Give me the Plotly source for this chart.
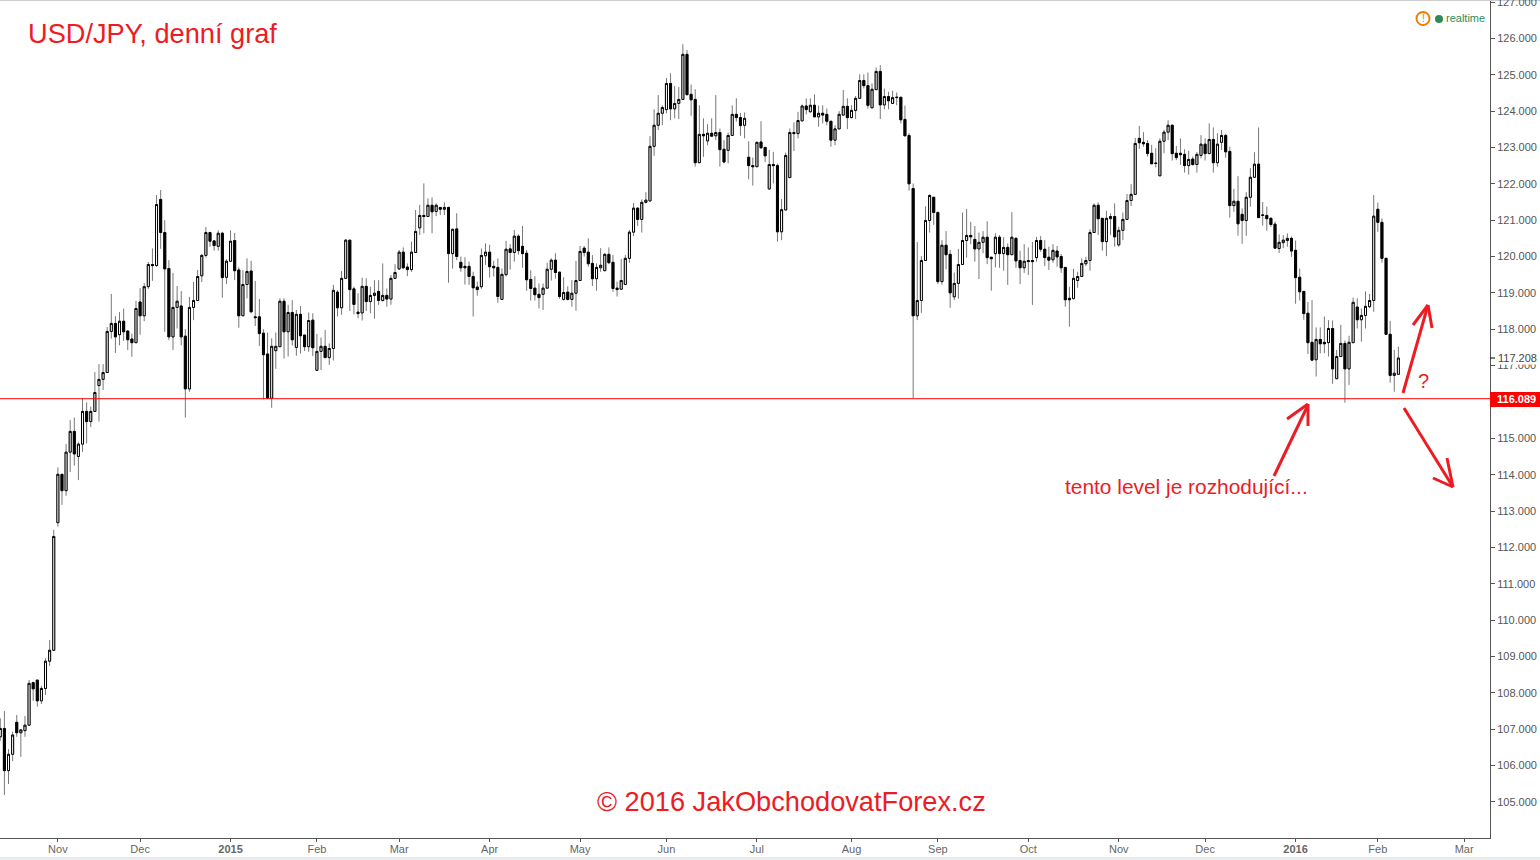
import plotly.graph_objects as go

opens = [
106.79,107.02,105.86,106.31,107.19,106.90,106.96,107.11,108.28,108.35,
107.78,108.12,108.87,109.17,112.68,114.01,113.56,114.62,115.19,114.50,
114.84,115.74,115.46,115.74,116.45,116.62,116.81,117.94,118.16,117.85,
118.22,117.95,117.73,117.63,118.75,118.37,119.17,119.78,119.75,121.57,
120.66,119.67,117.79,118.60,118.64,117.81,116.36,118.60,118.79,119.47,
120.03,120.66,120.43,120.28,120.64,119.43,119.87,120.44,119.63,118.37,
119.23,119.60,118.34,118.34,117.89,117.32,116.10,117.41,117.52,118.77,
117.93,118.46,117.50,118.41,117.84,117.52,118.25,116.87,117.39,117.53,
117.22,117.47,119.02,118.59,119.40,120.45,119.11,118.47,118.45,119.18,
118.76,118.93,119.04,118.79,118.93,118.83,119.40,119.66,120.12,119.71,
119.64,120.11,120.79,121.13,121.10,121.41,121.24,121.35,121.30,121.35,
120.08,120.76,119.84,119.73,119.73,119.45,119.16,119.17,120.02,120.12,
119.73,119.70,118.82,119.50,120.21,120.11,120.56,120.28,120.09,119.37,
119.13,118.96,118.96,119.13,119.65,119.90,119.57,118.82,119.02,118.82,
118.99,119.34,120.23,120.12,119.81,119.39,119.69,119.61,120.06,119.84,
119.13,119.10,119.23,119.95,120.67,121.33,121.02,121.49,121.53,123.03,
123.61,123.94,124.04,124.76,124.06,124.21,124.32,125.56,124.46,124.32,
122.58,123.36,123.18,123.39,123.32,123.41,122.95,122.92,123.33,123.91,
123.82,123.61,122.73,122.50,122.47,123.15,123.00,121.86,122.53,122.50,
120.68,121.28,122.17,123.41,123.38,123.73,124.14,123.98,124.16,123.84,
123.94,123.91,123.72,123.20,123.51,123.89,124.13,123.82,124.02,124.35,
124.84,124.70,124.09,124.59,125.09,124.17,124.40,124.21,124.37,124.38,
123.77,123.33,121.87,118.37,118.79,119.89,120.99,121.63,121.21,119.31,
120.31,120.06,118.89,119.26,119.78,120.44,120.58,120.47,120.21,120.39,
120.53,119.98,120.08,120.53,120.08,120.25,120.05,120.50,119.89,119.69,
119.89,119.89,119.97,120.44,120.20,119.98,119.91,120.15,120.00,119.70,
118.85,118.84,119.34,119.45,119.80,119.89,120.66,121.41,121.05,120.41,
121.04,121.10,120.32,120.72,121.02,121.54,121.71,123.25,123.14,123.11,
122.84,122.57,122.22,123.17,123.42,123.61,122.84,122.84,122.81,122.50,
122.68,122.53,122.78,123.09,122.83,123.22,122.58,123.14,123.33,122.89,
121.40,121.52,121.16,120.99,121.63,122.18,122.54,121.13,121.13,121.05,
120.89,120.22,120.38,120.44,120.50,120.17,119.43,119.04,118.44,117.64,
117.16,117.72,117.64,117.63,118.02,116.64,117.25,117.61,116.91,117.63,
118.61,118.26,118.38,118.62,118.79,121.30,120.94,119.95,117.86,116.73,
116.76]

closes = [
107.02,105.86,106.31,106.84,106.90,106.98,107.11,108.26,108.11,107.78,
108.12,108.87,109.17,112.30,114.01,113.56,114.62,115.19,114.57,114.84,
115.74,115.46,115.74,116.26,116.62,116.81,117.94,118.16,117.79,118.22,
117.93,117.71,117.63,118.57,118.37,119.17,119.78,119.75,121.43,120.66,
119.66,117.79,118.60,118.77,117.79,116.36,118.60,118.79,119.45,120.03,
120.66,120.42,120.30,120.64,119.42,119.87,120.42,119.61,118.37,119.23,
119.59,118.48,118.32,117.88,117.30,116.10,117.53,117.53,118.77,117.93,
118.46,117.71,118.41,117.82,117.52,118.24,117.49,117.39,117.53,117.22,
117.47,119.07,118.59,119.40,120.45,119.09,118.68,118.43,119.18,118.76,
118.93,118.99,118.79,118.93,118.83,119.40,119.56,120.12,119.69,119.64,
120.12,120.69,121.13,121.10,121.41,121.23,121.41,121.30,121.35,120.08,
120.75,120.00,119.69,119.69,119.45,119.14,119.09,120.03,120.12,119.72,
119.69,118.90,119.51,120.20,120.11,120.56,120.16,120.08,119.36,119.12,
118.95,118.87,119.13,119.65,119.90,119.56,118.90,119.01,118.82,118.99,
119.34,120.14,120.11,119.80,119.39,119.70,119.76,120.06,119.83,119.12,
119.09,119.34,119.95,120.67,121.33,121.02,121.49,121.55,123.03,123.61,
123.94,124.10,124.76,124.06,124.21,124.32,125.56,124.45,124.31,122.58,
123.36,123.32,123.39,123.31,123.41,122.94,122.60,123.33,123.91,123.82,
123.60,123.80,122.50,122.47,123.14,122.99,122.77,122.53,122.50,120.68,
121.29,122.78,123.41,123.38,123.74,124.14,124.04,124.16,123.84,123.94,
123.89,123.72,123.20,123.51,123.91,124.13,123.82,124.02,124.35,124.84,
124.70,124.16,124.60,125.09,124.17,124.40,124.28,124.37,124.38,123.76,
123.32,122.00,118.37,118.79,119.89,120.99,121.68,121.21,119.31,120.31,
120.05,119.00,119.26,119.78,120.44,120.58,120.54,120.21,120.39,120.53,
119.97,119.94,120.53,120.08,120.25,120.05,120.53,119.88,119.69,119.87,
119.86,119.86,120.44,120.20,119.97,119.90,120.17,119.99,119.69,118.81,
118.81,119.40,119.45,119.81,119.89,120.66,121.41,121.04,120.41,121.05,
121.10,120.54,120.72,121.02,121.54,121.71,123.11,123.13,123.10,122.83,
122.55,122.56,123.17,123.42,123.61,122.83,122.72,122.80,122.50,122.67,
122.53,122.81,123.09,122.83,123.22,122.58,123.09,123.33,122.88,121.40,
121.52,120.90,120.99,121.63,122.18,122.54,121.07,121.14,121.04,120.88,
120.23,120.39,120.45,120.50,120.15,119.42,119.03,118.43,117.63,117.15,
117.72,117.60,117.60,118.02,116.91,117.25,117.61,116.91,117.64,118.74,
118.26,118.38,118.63,118.79,121.11,120.94,119.95,117.86,116.73,116.79,
117.208]

highs = [
107.30,107.50,106.45,106.93,107.39,107.00,107.36,108.35,108.31,108.35,
108.19,108.95,109.45,112.48,114.20,114.01,114.84,115.50,115.57,114.89,
116.10,115.99,115.87,116.82,117.04,117.04,118.06,118.97,118.36,118.47,
118.57,117.98,117.88,118.78,119.13,119.27,119.85,120.22,121.69,121.83,
121.00,119.90,119.55,119.19,119.05,118.00,118.89,119.30,119.63,120.07,
120.81,120.68,120.45,120.72,120.68,119.93,120.72,120.65,119.70,119.62,
119.95,119.88,119.33,118.83,118.00,117.91,117.75,117.91,118.85,118.85,
118.67,118.80,118.53,118.64,117.84,118.46,118.44,117.87,117.77,117.98,
117.61,119.22,119.08,119.60,120.48,120.45,119.17,118.99,119.42,119.40,
119.17,119.35,119.35,119.81,119.12,119.49,119.79,120.18,120.25,119.81,
120.41,121.28,121.42,122.01,121.60,121.63,121.46,121.35,121.49,121.37,
120.75,121.19,120.00,119.98,119.86,119.58,119.31,120.22,120.36,120.32,
119.88,119.95,119.67,120.43,120.34,120.73,120.61,120.84,120.18,119.62,
119.46,119.26,119.26,119.83,119.95,120.09,119.57,119.43,119.18,119.35,
119.88,120.29,120.29,120.50,120.04,119.81,120.23,120.09,120.25,120.04,
119.31,119.93,120.04,120.73,121.47,121.35,121.57,121.77,123.31,124.05,
124.44,124.16,124.91,125.04,124.69,124.66,125.84,125.68,124.73,124.60,
124.16,123.80,123.64,123.80,124.44,123.52,123.20,123.41,124.16,124.35,
123.95,123.96,123.17,122.72,123.16,123.72,123.02,122.93,122.88,122.56,
121.58,122.86,123.52,123.69,123.98,124.18,124.35,124.35,124.46,124.15,
124.16,124.07,123.72,123.61,124.00,124.58,124.35,124.16,124.41,125.01,
125.01,125.06,124.76,125.20,125.26,124.62,124.53,124.56,124.51,124.38,
124.15,123.39,122.01,120.40,120.01,121.38,121.71,121.63,121.24,120.45,
120.70,120.18,119.56,120.21,121.21,121.31,120.95,120.84,120.66,120.70,
120.97,119.98,120.64,120.59,120.53,120.36,121.22,120.53,120.16,120.34,
120.25,120.40,120.54,120.56,120.45,120.27,120.34,120.29,120.07,119.70,
119.17,119.66,119.58,119.95,119.99,120.75,121.46,121.49,121.05,121.26,
121.19,121.46,120.82,121.21,121.72,121.99,123.26,123.59,123.42,123.20,
123.07,122.98,123.25,123.48,123.75,123.63,123.04,123.25,122.95,122.91,
122.75,122.87,123.34,123.25,123.66,123.55,123.39,123.48,123.37,123.02,
121.86,122.21,121.32,121.77,122.43,122.87,123.55,121.50,121.37,121.08,
120.96,120.61,120.59,120.64,120.55,120.44,119.67,119.04,118.75,118.80,
118.05,118.05,118.35,118.25,118.24,117.43,118.12,117.69,117.82,118.87,
118.85,118.57,119.04,118.97,121.69,121.48,121.05,119.95,118.23,117.43,
117.52]

lows = [
106.68,105.19,105.49,106.12,106.79,106.24,106.79,107.11,107.78,107.62,
107.69,107.94,108.74,109.17,112.57,113.17,113.42,114.07,114.25,113.85,
114.63,114.86,115.31,115.74,115.46,116.33,116.81,117.74,117.35,117.56,
117.68,117.43,117.24,117.63,117.85,118.22,119.11,119.33,119.72,120.21,
117.93,117.70,117.43,118.02,117.56,115.57,116.28,118.25,118.79,119.30,
119.97,120.27,120.16,120.16,118.87,119.24,119.86,119.35,118.04,118.37,
118.85,118.44,118.09,117.54,116.07,116.10,115.84,116.91,117.52,117.19,
117.25,117.55,117.27,117.33,117.40,117.38,117.26,116.87,116.88,117.20,
117.02,117.14,118.35,118.40,119.40,118.50,118.41,118.30,118.24,118.50,
118.44,118.29,118.67,118.76,118.62,118.67,119.40,119.63,119.65,119.46,
119.58,120.11,120.59,120.64,121.10,120.64,121.11,121.14,121.14,119.28,
119.67,119.90,119.58,119.23,119.22,118.35,118.92,119.11,119.77,119.42,
119.45,118.73,118.82,119.45,119.64,119.86,120.05,119.69,119.06,118.79,
118.79,118.57,118.53,119.13,119.34,119.39,118.84,118.79,118.79,118.62,
118.51,119.34,120.00,119.72,119.19,119.06,119.58,119.61,119.79,119.03,
118.90,119.10,119.23,119.83,120.56,120.84,120.66,121.46,121.51,122.77,
123.48,123.61,123.94,123.75,123.80,123.78,124.32,124.45,123.87,122.47,
122.58,122.74,123.06,123.29,123.20,122.47,122.56,122.56,123.33,123.71,
123.32,123.25,122.12,121.95,122.47,122.97,122.60,121.83,122.01,120.41,
120.45,121.28,122.17,122.90,123.25,123.73,123.91,123.96,123.84,123.57,
123.66,123.61,123.02,123.06,123.51,123.89,123.50,123.80,123.78,124.35,
124.62,124.07,124.09,124.59,123.78,124.05,124.05,124.21,124.16,123.66,
123.32,121.81,116.10,118.25,118.45,119.89,120.66,120.87,119.24,119.22,
119.65,118.59,118.80,118.84,119.78,119.97,120.34,119.86,119.38,120.09,
119.79,119.06,119.70,119.69,119.61,119.22,120.05,119.69,119.24,119.55,
119.49,118.67,119.86,120.13,119.74,119.63,119.83,119.72,119.55,118.62,
118.07,118.84,119.14,119.45,119.74,119.61,120.66,120.59,120.16,120.01,
120.59,120.27,120.27,120.45,121.02,121.39,121.71,122.96,123.02,122.75,
122.55,122.45,122.22,122.84,123.20,122.64,122.65,122.52,122.31,122.25,
122.50,122.31,122.70,122.64,122.83,122.31,122.47,122.93,122.72,121.07,
121.23,120.57,120.35,120.57,121.37,122.18,121.07,120.85,120.71,120.82,
120.23,120.10,120.23,120.27,119.99,118.70,118.79,118.26,117.32,117.15,
116.70,117.34,117.34,117.25,116.50,116.64,117.25,115.98,116.47,117.63,
118.02,117.66,118.02,118.58,118.48,120.68,119.83,117.86,116.53,116.28,
116.76]

tick_index = [14, 34, 56, 77, 97, 119, 141, 162, 184, 207, 228, 250, 272, 293, 315, 335, 356]
tick_labels = ["Nov", "Dec", "<b>2015</b>", "Feb", "Mar", "Apr", "May", "Jun", "Jul", "Aug",
               "Sep", "Oct", "Nov", "Dec", "<b>2016</b>", "Feb", "Mar"]
support_level = 116.089
last_price = 117.208

RED = "#ed1c24"
PW, PH = 1490, 838
def px(x): return x / PW
def py(y): return 1 - y / PH

idx = list(range(len(closes)))
body_hi = [max(o, c) for o, c in zip(opens, closes)]
body_lo = [min(o, c) for o, c in zip(opens, closes)]

fig = go.Figure()
wick = dict(line=dict(color="#777777", width=1), fillcolor="#777777")
fig.add_trace(go.Candlestick(x=idx, open=opens, high=highs, low=lows, close=closes,
                             increasing=wick, decreasing=wick, hoverinfo="skip", showlegend=False))
fig.add_trace(go.Candlestick(x=idx, open=opens, high=body_hi, low=body_lo, close=closes,
                             increasing=dict(line=dict(color="#000000", width=1), fillcolor="#ffffff"),
                             decreasing=dict(line=dict(color="#000000", width=1), fillcolor="#000000"),
                             hoverinfo="skip", showlegend=False))

shapes = [
    dict(type="line", xref="paper", yref="y", x0=0, x1=1, y0=support_level, y1=support_level,
         line=dict(color="#ff0000", width=1), layer="above"),
    dict(type="rect", xref="paper", yref="paper", x0=px(1490), x1=px(1540), y0=py(392), y1=py(407),
         fillcolor="#ff0000", line=dict(width=0), layer="above"),
    dict(type="line", xref="paper", yref="paper", x0=px(1490), x1=px(1495), y0=py(358), y1=py(358),
         line=dict(color="#000000", width=1), layer="above"),
    dict(type="rect", xref="paper", yref="paper", x0=px(0), x1=px(1540), y0=py(857), y1=py(860),
         fillcolor="#e9ecef", line=dict(width=0), layer="above"),
    dict(type="line", xref="paper", yref="paper", x0=px(0), x1=px(1540), y0=py(0.5), y1=py(0.5),
         line=dict(color="#cccccc", width=1), layer="above"),
    dict(type="circle", xref="paper", yref="paper", x0=px(1416.5), x1=px(1429.5), y0=py(12), y1=py(25),
         line=dict(color="#f57c00", width=2), fillcolor="#ffffff", layer="above"),
    dict(type="circle", xref="paper", yref="paper", x0=px(1435), x1=px(1443), y0=py(15), y1=py(23),
         line=dict(width=0), fillcolor="#2e8b57", layer="above"),
]
hand_arrows = [
    [(1274, 476), (1308, 405)], [(1287, 419), (1308, 404)], [(1308, 404), (1308, 426)],
    [(1403, 393), (1428, 305)], [(1413, 325), (1428, 305)], [(1428, 305), (1432, 328)],
    [(1404, 408), (1453, 487)], [(1433, 478), (1453, 487)], [(1453, 487), (1447, 458)],
]
for (a, b) in hand_arrows:
    shapes.append(dict(type="line", xref="paper", yref="paper", x0=px(a[0]), y0=py(a[1]), x1=px(b[0]), y1=py(b[1]),
                       line=dict(color=RED, width=3), layer="above"))

def note(text, x, y, size, color=RED, anchor="left", **kw):
    return dict(text=text, xref="paper", yref="paper", x=px(x), y=py(y), xanchor=anchor, yanchor="middle",
                showarrow=False, font=dict(family="Liberation Sans, Arial", size=size, color=color), **kw)

annotations = [
    note("USD/JPY, denní graf", 26, 34, 27.2),
    note("© 2016 JakObchodovatForex.cz", 594.5, 801, 27.2),
    note("tento level je rozhodující...", 1063, 486, 20.9),
    note("?", 1416, 381, 20),
    note("!", 1423, 18, 11, color="#f57c00", anchor="center"),
    note("realtime", 1444, 18.5, 11, color="#2e8b57"),
    note(f"{last_price:.3f}", 1497, 358, 11, color="#444444", bgcolor="#ffffff", borderpad=0),
    note(f"<b>{support_level:.3f}</b>", 1495, 399.5, 11, color="#ffffff"),
    note("127.000", 1495, 2, 11, color="#555555"),
]

fig.update_layout(
    width=1540, height=860, margin=dict(l=0, r=50, t=0, b=22, pad=0),
    paper_bgcolor="#ffffff", plot_bgcolor="#ffffff", showlegend=False,
    boxgap=0.3, shapes=shapes, annotations=annotations,
    font=dict(family="Liberation Sans, Arial", size=11, color="#555555"),
    xaxis=dict(range=[-0.07, 362.28], rangeslider=dict(visible=False), showgrid=False, zeroline=False,
               tickmode="array", tickvals=tick_index, ticktext=tick_labels, ticks="outside", ticklen=3,
               ticklabelstandoff=-2,
               tickcolor="#555555", showline=True, linecolor="#555555", linewidth=1,
               tickfont=dict(size=11, color="#666666")),
    yaxis=dict(range=[104.007, 127.055], side="right", showgrid=False, zeroline=False, dtick=1, tick0=105,
               tickformat=".3f", ticks="outside", ticklen=4, tickcolor="#555555", showline=True,
               linecolor="#555555", linewidth=1, tickfont=dict(size=11, color="#555555"), anchor="x"),
)

fig.write_html("out.html", config={"displayModeBar": False},
               post_script="document.body.style.margin='0';document.body.style.overflow='hidden';")
